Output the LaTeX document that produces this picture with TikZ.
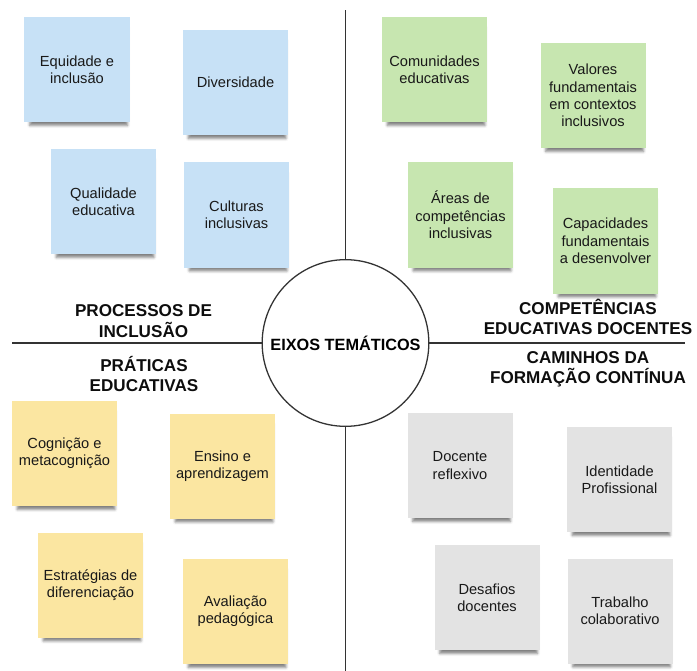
\documentclass[tikz,border=0pt]{standalone}
\usepackage{fontspec}
\setmainfont{Liberation Sans}
\usepackage{xcolor}
\usetikzlibrary{shadows.blur}

\definecolor{notaazul}{RGB}{199,225,246}
\definecolor{notaverde}{RGB}{199,230,176}
\definecolor{notaamarela}{RGB}{251,230,161}
\definecolor{notacinza}{RGB}{227,227,227}

\tikzset{
	nota/.style={rectangle, minimum width=3.15cm, minimum height=3.15cm, inner sep=0pt,
		align=center, text=black!90, font=\fontsize{12.5}{14.8}\selectfont,
		blur shadow={shadow xshift=1.5pt, shadow yshift=-6.5pt, shadow scale=0.93,
		shadow opacity=50, shadow blur radius=2.5pt}},
	eixo/.style={align=center, text=black!95, font=\bfseries\fontsize{14.6}{17.5}\selectfont},
	linha/.style={line width=1.1pt, black!80}
}

\begin{document}
\begin{tikzpicture}[x=0.03cm,y=-0.03cm]
		\useasboundingbox (0,0) rectangle (697,671);
		\coordinate (topo) at (345.5,10);
		\coordinate (base) at (345.5,671);
		\coordinate (esq) at (12,343);
		\coordinate (dir) at (685,343);
		% centro
		\node[circle, draw, line width=1.1pt, draw=black!80, minimum size=5.0cm, inner sep=0pt,
		font=\bfseries\fontsize{13.9}{16}\selectfont] (eixos) at (345.5,343) {EIXOS TEMÁTICOS};
		\draw[linha] (eixos.north) -- (topo);
		\draw[linha] (eixos.south) -- (base);
		\draw[linha] (eixos.west) -- (esq);
		\draw[linha] (eixos.east) -- (dir);
		% titulos
		\node[eixo] (proc) at (143.5,321) {PROCESSOS DE\\INCLUSÃO};
		\node[eixo] (prat) at (144,374) {PRÁTICAS\\EDUCATIVAS};
		\node[eixo] (comp) at (588,317) {COMPETÊNCIAS\\EDUCATIVAS DOCENTES};
		\node[eixo] (cami) at (588,369.5) {CAMINHOS DA\\FORMAÇÃO CONTÍNUA};
		% processos de inclusao
		\node[nota, fill=notaazul] (equi) at (77,69.5) {Equidade e\\inclusão};
		\node[nota, fill=notaazul] (dive) at (235.5,82.5) {Diversidade};
		\node[nota, fill=notaazul] (qual) at (103.5,201.5) {Qualidade\\educativa};
		\node[nota, fill=notaazul] (cult) at (236.5,215) {Culturas\\inclusivas};
		% competencias
		\node[nota, fill=notaverde] (comu) at (434.5,69.5) {Comunidades\\educativas};
		\node[nota, fill=notaverde] (valo) at (593,95.5) {Valores\\fundamentais\\em contextos\\inclusivos};
		\node[nota, fill=notaverde] (area) at (460.5,215) {Áreas de\\competências\\inclusivas};
		\node[nota, fill=notaverde] (capa) at (605.5,241) {Capacidades\\fundamentais\\a desenvolver};
		% praticas
		\node[nota, fill=notaamarela] (cogn) at (64.5,453.5) {Cognição e\\metacognição};
		\node[nota, fill=notaamarela] (ensi) at (222.5,466) {Ensino e\\aprendizagem};
		\node[nota, fill=notaamarela] (estr) at (90.5,585) {Estratégias de\\diferenciação};
		\node[nota, fill=notaamarela] (aval) at (235.5,611.5) {Avaliação\\pedagógica};
		% formacao continua
		\node[nota, fill=notacinza] (doce) at (460,465.5) {Docente\\reflexivo};
		\node[nota, fill=notacinza] (iden) at (619.5,479.5) {Identidade\\Profissional};
		\node[nota, fill=notacinza] (desa) at (487,597.5) {Desafios\\docentes};
		\node[nota, fill=notacinza] (trab) at (620,611) {Trabalho\\colaborativo};
	\end{tikzpicture}
\end{document}
